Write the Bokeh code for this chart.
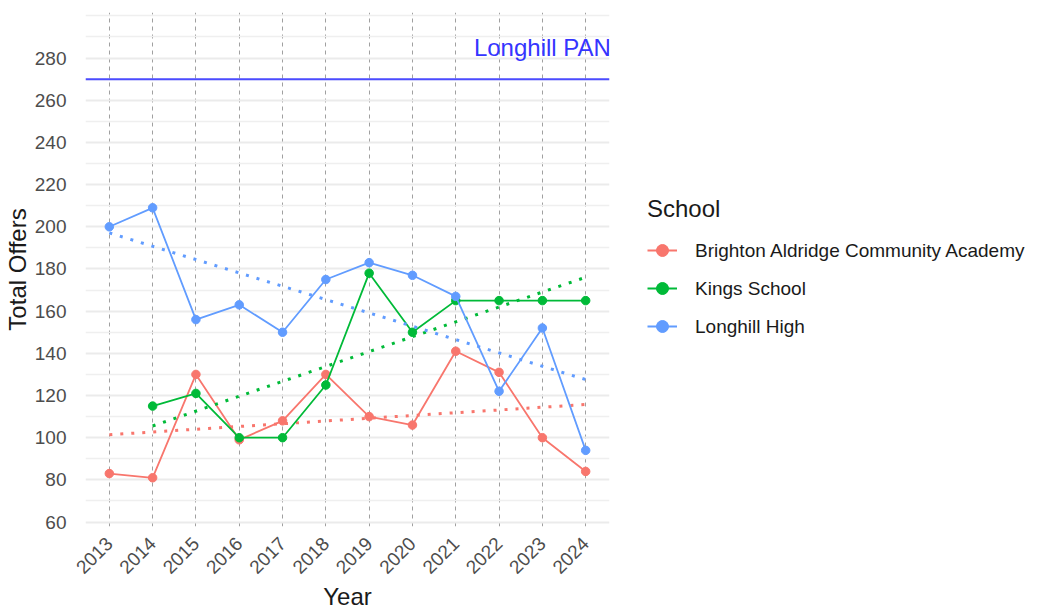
import numpy as np
from bokeh.plotting import figure
from bokeh.models import Legend, LegendItem, Span, FixedTicker, Range1d, ColumnDataSource
from bokeh.core.properties import value
from bokeh.embed import file_html
from bokeh.resources import INLINE

# ---------------- data ----------------
years = [2013, 2014, 2015, 2016, 2017, 2018, 2019, 2020, 2021, 2022, 2023, 2024]
brighton = [83, 81, 130, 99, 108, 130, 110, 106, 141, 131, 100, 84]
kings = [None, 115, 121, 100, 100, 125, 178, 150, 165, 165, 165, 165]
longhill = [200, 209, 156, 163, 150, 175, 183, 177, 167, 122, 152, 94]
school_names = ["Brighton Aldridge Community Academy", "Kings School", "Longhill High"]
school_colors = ["#F8766D", "#00BA38", "#619CFF"]
y_ticks = [60, 80, 100, 120, 140, 160, 180, 200, 220, 240, 260, 280]
pan_value = 270
pan_label = "Longhill PAN"
pan_label_x = 2023
pan_label_y = 285

FONT = "Liberation Sans"

p = figure(frame_width=524, frame_height=514,
           x_range=Range1d(2012.45, 2024.55), y_range=Range1d(57.9, 301.6),
           output_backend="svg", toolbar_location=None,
           min_border_left=78, min_border_top=12, min_border_right=0, min_border_bottom=0,
           outline_line_color=None, background_fill_color="white", border_fill_color="white")

# grids
p.xaxis.ticker = FixedTicker(ticks=years)
minor_y = [t + 10 for t in y_ticks] + [y_ticks[-1] + 20]
p.yaxis.ticker = FixedTicker(ticks=y_ticks, minor_ticks=minor_y)
p.xgrid.grid_line_color = "#a0a0a0"
p.xgrid.grid_line_dash = "4 4"
p.xgrid.grid_line_width = 1
p.ygrid.grid_line_color = "#ebebeb"
p.ygrid.grid_line_width = 1.8
p.ygrid.minor_grid_line_color = "#efefef"
p.ygrid.minor_grid_line_width = 1.3

# axes
for ax in (p.xaxis[0], p.yaxis[0]):
    ax.axis_line_color = None
    ax.major_tick_line_color = None
    ax.minor_tick_line_color = None
    ax.major_label_text_font = FONT
    ax.major_label_text_font_size = "19px"
    ax.major_label_text_color = "#4d4d4d"
    ax.axis_label_text_font = FONT
    ax.axis_label_text_font_size = "24px"
    ax.axis_label_text_font_style = "normal"
    ax.axis_label_text_color = "#1a1a1a"
p.xaxis.axis_label = "Year"
p.yaxis.axis_label = "Total Offers"
p.xaxis.major_label_orientation = np.pi / 4
p.yaxis.major_label_standoff = 13
p.xaxis.major_label_standoff = 8
p.yaxis.axis_label_standoff = 1
p.xaxis.axis_label_standoff = 0

# PAN line
p.add_layout(Span(location=pan_value, dimension="width", line_color="#4b4bff", line_width=2))
p.text(x=[pan_label_x], y=[pan_label_y], text=[pan_label], text_align="center",
       text_baseline="middle", text_color="#3535ff", text_font=value(FONT),
       text_font_size="24px")

items = []
for name, vals, col in zip(school_names, [brighton, kings, longhill], school_colors):
    v = np.array([np.nan if a is None else a for a in vals], dtype=float)
    x = np.array(years, dtype=float)
    ok = ~np.isnan(v)
    # linear trend (as geom_smooth(method="lm"))
    k, b = np.polyfit(x[ok], v[ok], 1)
    xe = np.array([x[ok].min(), x[ok].max()])
    p.line(xe, k * xe + b, line_color=col, line_width=3, line_dash="3 8", line_cap="butt")
    src = ColumnDataSource(dict(x=x[ok], y=v[ok]))
    ln = p.line("x", "y", source=src, line_color=col, line_width=1.8)
    sc = p.scatter("x", "y", source=src, size=8.5, fill_color=col, line_color=col)
    items.append(LegendItem(label=name, renderers=[ln, sc]))

legend = Legend(items=items, title="School", location="left")
legend.title_text_font = FONT
legend.title_text_font_size = "24px"
legend.title_text_font_style = "normal"
legend.title_text_color = "#1a1a1a"
legend.title_standoff = 10
legend.label_text_font = FONT
legend.label_text_font_size = "19px"
legend.label_text_color = "#1a1a1a"
legend.glyph_width = 30
legend.glyph_height = 35
legend.label_height = 35
legend.label_standoff = 18
legend.spacing = 3
legend.padding = 0
legend.margin = 38
legend.border_line_color = None
legend.background_fill_alpha = 0
p.add_layout(legend, "right")

open("out.html", "w").write(file_html(p, INLINE))
